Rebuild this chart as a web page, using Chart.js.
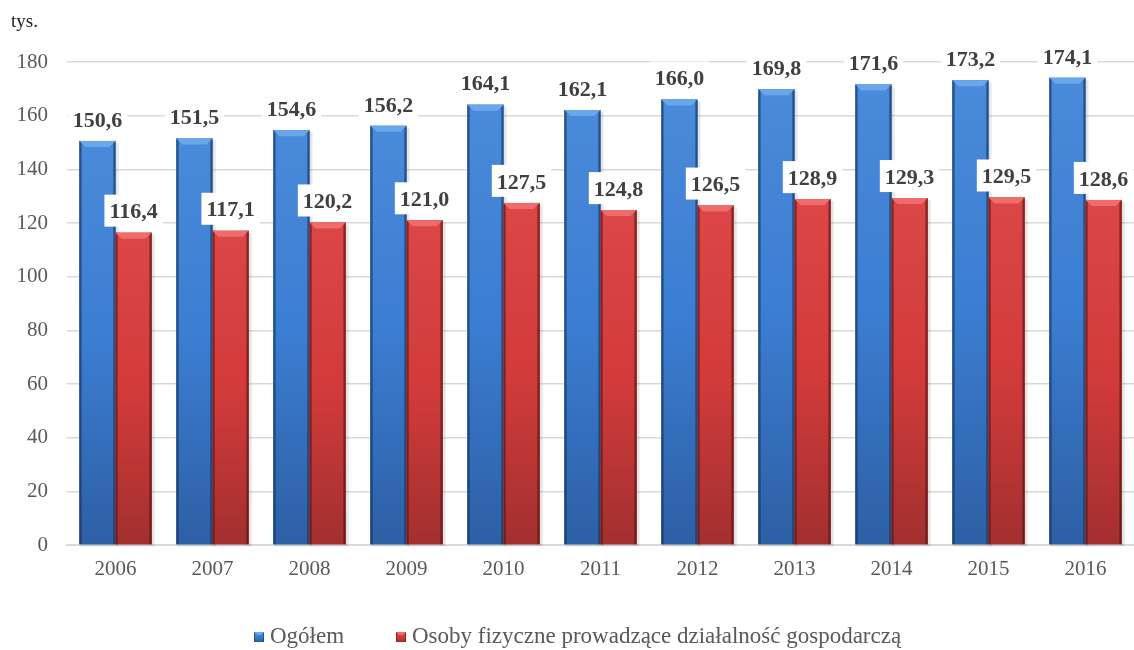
<!DOCTYPE html>
<html><head><meta charset="utf-8">
<script src="https://cdn.jsdelivr.net/npm/chart.js@4"></script>
<style>html,body{margin:0;padding:0;background:#fff}#wrap{width:1134px;height:650px;position:relative}</style>
</head><body><div id="wrap"><canvas id="c" width="1134" height="650"></canvas></div>
<script>
const categories = ['2006','2007','2008','2009','2010','2011','2012','2013','2014','2015','2016'];
const ogolem = [150.6,151.5,154.6,156.2,164.1,162.1,166.0,169.8,171.6,173.2,174.1];
const osoby = [116.4,117.1,120.2,121.0,127.5,124.8,126.5,128.9,129.3,129.5,128.6];
const yTicks = [0,20,40,60,80,100,120,140,160,180];
const seriesNames = ['Ogółem','Osoby fizyczne prowadzące działalność gospodarczą'];

const FONT = '"Liberation Serif","Times New Roman",serif';
const palettes = [
  {top:'#4a8ada', mid:'#3b7dd1', bot:'#2d5fa4', edge:'#24508c', bevel:'#6aa6ea', legend:'#3b7dd1'},
  {top:'#dc4646', mid:'#d33b3b', bot:'#a32f2f', edge:'#7e2020', bevel:'#ee6c6c', legend:'#d33b3b'}
];

function drawBevelRect(ctx, l, t, r, b, p, bv, e){
  const w = r - l;
  const g = ctx.createLinearGradient(0,t,0,b);
  g.addColorStop(0,p.top); g.addColorStop(0.5,p.mid); g.addColorStop(1,p.bot);
  ctx.fillStyle = g;
  ctx.fillRect(l,t,w,b-t);
  const gl = ctx.createLinearGradient(l,0,l+e,0);
  gl.addColorStop(0,p.edge); gl.addColorStop(1,'rgba(0,0,0,0)');
  ctx.fillStyle = gl; ctx.fillRect(l,t,e,b-t);
  const gr = ctx.createLinearGradient(r-e,0,r,0);
  gr.addColorStop(0,'rgba(0,0,0,0)'); gr.addColorStop(1,p.edge);
  ctx.fillStyle = gr; ctx.fillRect(r-e,t,e,b-t);
  ctx.beginPath();
  ctx.moveTo(l,t); ctx.lineTo(r,t); ctx.lineTo(r-bv,t+bv); ctx.lineTo(l+bv,t+bv); ctx.closePath();
  ctx.fillStyle = p.bevel; ctx.fill();
}

const bevelPlugin = {
  id:'bevel',
  afterDatasetsDraw(chart){
    const ctx = chart.ctx;
    chart.data.datasets.forEach((ds,di)=>{
      const meta = chart.getDatasetMeta(di);
      const p = palettes[di];
      meta.data.forEach(bar=>{
        const w = bar.width, l = bar.x - w/2, r = bar.x + w/2, t = bar.y, b = bar.base;
        ctx.save();
        ctx.fillStyle = 'rgba(0,0,0,0.10)';
        ctx.fillRect(l+1, t+2, w+2, b-t);
        drawBevelRect(ctx, l, t, r, b, p, 6, 3);
        ctx.restore();
      });
    });
    ctx.save();
    ctx.font = 'bold 22px ' + FONT;
    ctx.textAlign = 'center';
    ctx.textBaseline = 'middle';
    chart.data.datasets.forEach((ds,di)=>{
      const meta = chart.getDatasetMeta(di);
      meta.data.forEach((bar,i)=>{
        const txt = ds.data[i].toFixed(1).replace('.',',');
        const tw = ctx.measureText(txt).width;
        const cy = bar.y - 21;
        ctx.fillStyle = '#ffffff';
        ctx.fillRect(bar.x - tw/2 - 5, cy - 17, tw + 10, 32);
        ctx.fillStyle = '#404040';
        ctx.fillText(txt, bar.x, cy + 1);
      });
    });
    ctx.restore();
  },
  afterDraw(chart){
    const ctx = chart.ctx;
    ctx.save();
    ctx.font = '19px ' + FONT;
    ctx.fillStyle = '#222';
    ctx.textBaseline = 'middle';
    ctx.textAlign = 'left';
    ctx.fillText('tys.', 11, 22);
    // legend
    ctx.font = '23px ' + FONT;
    const ly = 637;
    const markerX = [254, 396];
    chart.data.datasets.forEach((ds,di)=>{
      const mx = markerX[di];
      drawBevelRect(ctx, mx, ly-5, mx+10, ly+5, palettes[di], 3, 1);
      ctx.fillStyle = '#595959';
      ctx.fillText(ds.label, mx + 16, ly);
    });
    ctx.restore();
  }
};

new Chart(document.getElementById('c'), {
  type:'bar',
  data:{
    labels:categories,
    datasets:[
      {label:seriesNames[0], data:ogolem, backgroundColor:palettes[0].legend, barPercentage:1, categoryPercentage:0.745},
      {label:seriesNames[1], data:osoby, backgroundColor:palettes[1].legend, barPercentage:1, categoryPercentage:0.745}
    ]
  },
  options:{
    responsive:false,
    animation:false,
    layout:{padding:{top:62,right:0,left:0,bottom:65}},
    plugins:{
      legend:{display:false},
      tooltip:{enabled:false}
    },
    scales:{
      x:{
        grid:{display:false, drawTicks:false},
        border:{display:true,color:'#d9d9d9',width:2},
        ticks:{font:{family:FONT,size:21},color:'#595959',padding:12},
        afterFit(scale){ scale.height = 40; }
      },
      y:{
        min:0,max:180,
        afterBuildTicks(scale){ scale.ticks = yTicks.map(v=>({value:v})); },
        afterFit(scale){ scale.width = 67; },
        grid:{color:'#d9d9d9',lineWidth:1.5, drawTicks:false},
        border:{display:false},
        ticks:{font:{family:FONT,size:21},color:'#595959',padding:19}
      }
    }
  },
  plugins:[bevelPlugin]
});
</script></body></html>
